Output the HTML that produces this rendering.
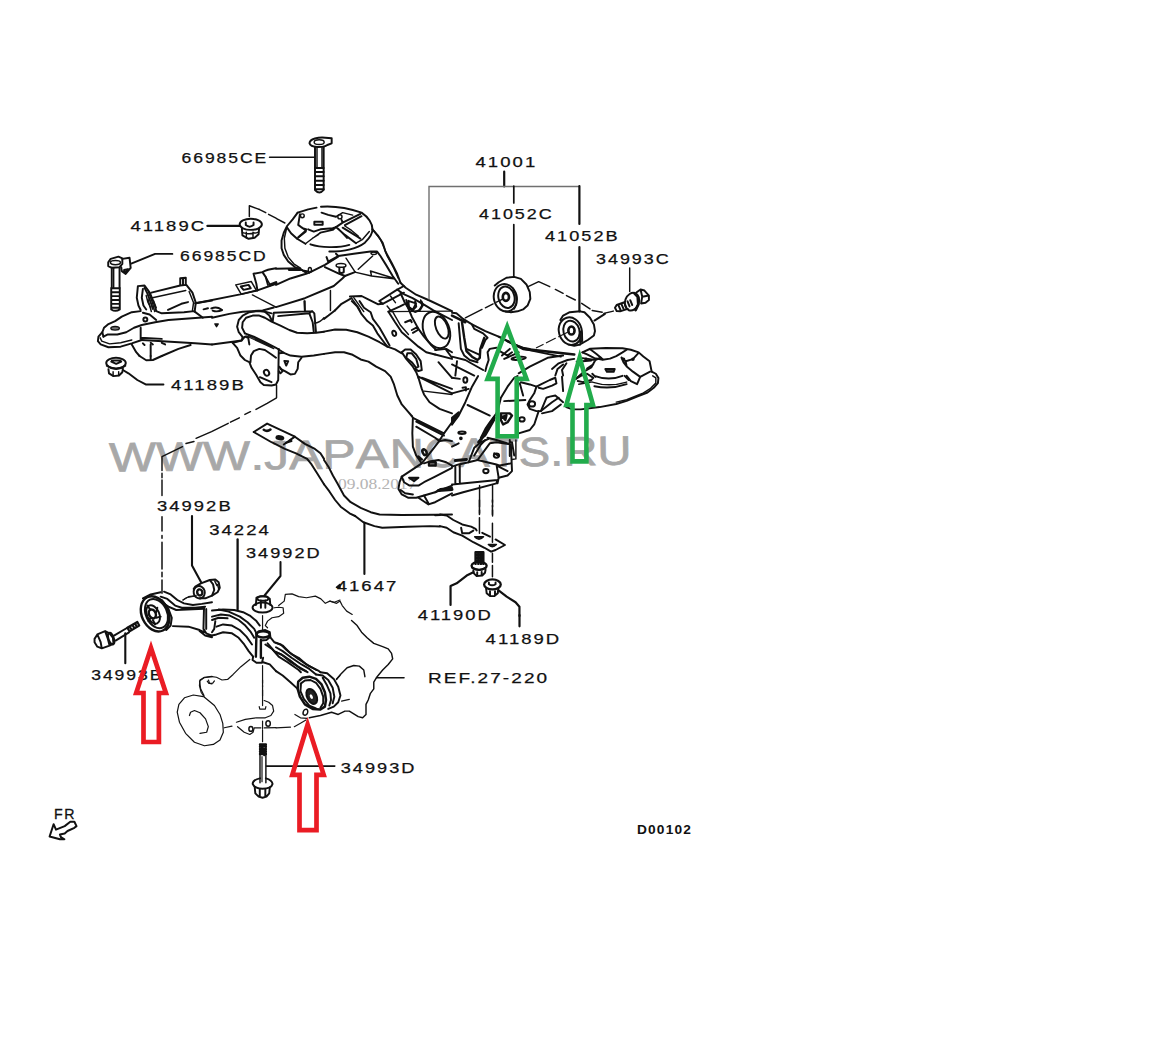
<!DOCTYPE html>
<html><head><meta charset="utf-8">
<style>
html,body{margin:0;padding:0;background:#fff;}
svg{display:block;}
text{font-family:"Liberation Sans",sans-serif;}
.l{font-size:15.4px;fill:#111;letter-spacing:1.7px;stroke:#111;stroke-width:0.25px;}
g.z path,g.z line,g.z ellipse,g.z polyline,g.z circle{vector-effect:non-scaling-stroke;}
.k{fill:none;stroke:#111;stroke-width:1.45;stroke-linecap:round;stroke-linejoin:round;}
.t{fill:none;stroke:#111;stroke-width:1.95;stroke-linecap:round;stroke-linejoin:round;}
.f{fill:none;stroke:#151515;stroke-width:1.2;stroke-linecap:round;stroke-linejoin:round;}
.d{fill:none;stroke:#111;stroke-width:1.2;stroke-dasharray:9 3;}
.g{fill:none;stroke:#22ac4c;stroke-width:4.6;stroke-linejoin:miter;stroke-miterlimit:10;}
.r{fill:none;stroke:#ea1c24;stroke-width:4.7;stroke-linejoin:miter;stroke-miterlimit:10;}
</style></head><body>
<svg width="1152" height="1044" viewBox="0 0 1152 1044">
<rect width="1152" height="1044" fill="#fff"/>
<!-- WATERMARK -->
<g id="wm">
<g transform="rotate(-0.75 109 471.5)" font-size="41" fill="#a8a8a8" style="font-kerning:none;stroke:#a8a8a8;stroke-width:0.7px">
<text x="109.2" y="471.5" textLength="279.8" lengthAdjust="spacingAndGlyphs">WWW.JAPA</text>
<text x="390" y="471.5" textLength="241.8" lengthAdjust="spacingAndGlyphs">NCATS.RU</text>
</g>
<text x="338" y="489.4" font-size="14" fill="#b4b4b4" style="font-family:'Liberation Serif',serif" textLength="78.5" lengthAdjust="spacingAndGlyphs">09.08.2017</text>
</g>
<!-- DRAWING -->
<g id="draw">
<!-- R(60,120) -->
<g class="z k" transform="translate(60,120) scale(0.1666667)">
<path class="t" d="M885 635 L1080 635"/>
</g>
<!-- R(252,120) -->
<g class="z k" transform="translate(252,120) scale(0.1666667)">
<path d="M105 223 L375 223"/>
<path class="t" d="M345 140 C345 112 400 102 440 106 L478 110 L478 140 L452 150 C430 166 352 170 345 140 Z"/>
<ellipse cx="403" cy="133" rx="30" ry="14"/>
<path class="t" d="M378 160 L378 420 Q405 450 430 420 L430 160"/>
<path d="M390 165 L390 285 M420 165 L420 285"/>
<path class="t" d="M378 288 L430 288 M380 312 L430 312 M380 338 L430 338 M380 364 L430 364 M380 390 L430 390 M380 415 L430 415"/>
</g>
<!-- R9(276,196) mount top-left -->
<g class="z k" transform="translate(276,196) scale(0.1111111)">
<path d="M5 203 L80 243"/>
<path class="t" d="M195 150 L290 120 L365 105 M405 97 C500 90 640 105 770 150 C830 190 870 250 868 300"/>
<path class="t" d="M868 300 L920 360 L960 420 L985 500 L1040 600 L1090 700 L1120 780"/>
<path d="M880 312 L940 392 L975 470 L1000 540 L1060 650 L1100 740"/>
<path class="t" d="M195 150 L150 210 L100 270 L70 330 L50 400 L50 470 L70 530 L110 590 L170 640 L240 670 L290 680"/>
<path d="M95 290 L75 380 L80 470 L110 550 L160 610 L220 650"/>
<path class="t" d="M100 285 L135 335 L190 385 L265 430"/>
<path class="t" d="M310 435 C400 465 560 470 660 440"/>
<path class="t" d="M480 500 C600 500 720 480 800 420 C840 380 870 330 868 300"/>
<path d="M720 425 L780 390 L840 320"/>
<circle cx="237" cy="178" r="17"/>
<path class="t" d="M215 165 L200 260 L240 290 L275 300 M230 282 L270 310 L200 372"/>
<path d="M190 385 L270 322 M265 430 L330 380 L400 330 M330 380 L385 345"/>
<path class="t" d="M345 232 L420 232 L420 258 L345 258 Z"/>
<path class="t" d="M410 150 L470 170 L540 187"/>
<circle cx="575" cy="187" r="19"/>
<path d="M540 185 L600 150 L690 172"/>
<path class="t" d="M290 300 L340 320 L400 300 L510 290 L540 280 M400 330 L510 305 L540 280"/>
<path class="t" d="M540 280 L600 240 L590 215 M600 240 L760 160 M620 262 L770 182"/>
<path class="t" d="M540 280 L620 350 L720 425 M600 285 L740 370 L760 385"/>
<path d="M560 292 L640 380 M620 270 L680 310 L740 360"/>
<path class="t" d="M455 550 L470 590 L560 540 L540 520"/>
<path class="t" d="M560 540 L700 520 L850 500 L910 500 L940 540 L990 620 L1050 720 L1100 790"/>
<ellipse cx="880" cy="515" rx="25" ry="11"/>
<path d="M870 540 L740 660 M630 560 L710 680"/>
<path class="t" d="M440 640 L570 700 L620 720 L710 685"/>
<path d="M710 685 L860 720 L1060 745 M850 675 L1060 740 M850 675 L860 720"/>
<ellipse cx="585" cy="625" rx="44" ry="17"/>
<path class="t" d="M570 645 L570 685 Q590 700 610 685 L610 645"/>
<path class="t" d="M0 655 L210 650 L270 690 M0 800 L130 742 L270 700 L300 690"/>
<path class="t" d="M120 662 L215 662" style="stroke-width:3"/>
<ellipse cx="305" cy="665" rx="14" ry="22"/>
<path class="t" d="M300 690 L440 620 L560 545"/>
<path class="t" d="M0 1000 L260 920 L520 810 L600 740 L620 720"/>
<path d="M490 850 L490 1030 M260 945 L260 1040"/>
<path class="t" d="M530 1030 L590 970 L680 920"/>
<path class="t" d="M665 905 L770 900 L830 930 L920 975 L960 970"/>
<path d="M680 920 L740 1000 L760 1040 M700 915 L790 1040"/>
<path class="t" d="M930 945 L1080 850 L1150 810 M930 945 L960 970 L1152 870"/>
<path d="M1000 990 L1040 1040 M1030 900 L1075 960"/>
</g>
<!-- R9(148,196) -->
<g class="z k" transform="translate(148,196) scale(0.1111111)">
<path class="t" d="M535 270 L825 270"/>
<ellipse class="t" cx="925" cy="255" rx="100" ry="50"/>
<path class="t" d="M880 238 L880 262 Q915 290 950 262 L950 238"/>
<path class="t" d="M845 295 L850 355 L905 385 L960 375 L995 345 L1000 290"/>
<path d="M885 325 L885 378 M945 325 L945 378 M850 330 Q920 350 995 325"/>
<path d="M912 185 L912 88 L1000 120"/>
<path d="M1000 120 L1060 150 M1085 165 L1152 200"/>
<path class="t" d="M290 800 L290 740 L340 735 L340 800 M315 745 L315 800"/>
<path class="t" d="M30 870 L290 805 L345 800 L400 870 L430 960 L420 1040"/>
<path d="M40 915 L340 850 M0 850 L40 960 L60 1040 M0 930 L30 1040"/>
<path class="t" d="M180 1025 L300 970 L360 955"/>
<path d="M370 860 L410 960 L400 1030"/>
<path class="t" d="M430 965 L830 885 L985 850 L1152 790"/>
<path d="M790 800 L930 770 L975 850 L840 885 Z"/>
<path class="t" d="M835 815 L905 800 L925 830 L860 845 Z"/>
<path class="t" d="M950 700 L1030 685 L1060 730 L1080 800 M950 700 L975 790 L985 850 M1030 685 C1070 660 1110 655 1152 650"/>
<path d="M1060 730 L1100 800"/>
<path class="t" d="M1100 800 L1152 780" style="stroke-width:3"/>
<path d="M940 890 L1152 1000"/>
<path class="t" d="M500 1020 L540 1010 M570 1012 Q620 990 660 1022"/>
</g>
<!-- R9(84,240) -->
<g class="z k" transform="translate(84,240) scale(0.1111111)">
<path class="t" d="M795 125 L640 125 L425 212"/>
<path class="t" d="M218 200 L240 170 L310 150 L345 165 L345 215 L320 245 L250 250 L218 235 Z"/>
<ellipse cx="283" cy="203" rx="45" ry="19"/>
<path class="t" d="M345 170 L410 160 L420 250 L375 305 L340 280 L335 245 M360 270 L395 262 L375 300 Z" />
<path class="t" d="M250 250 L250 430 M320 250 L320 430"/>
<path d="M267 255 L267 430"/>
<path class="t" d="M245 432 L245 625 Q283 650 322 625 L322 432 M245 435 L322 435 M245 470 L322 470 M245 505 L322 505 M245 540 L322 540 M245 575 L322 575 M245 610 L322 610"/>
<path class="t" d="M485 415 L545 410 L590 470 L615 530 L640 600 L650 640 M485 415 L475 520 L490 590 L510 630"/>
<path class="t" d="M530 440 L520 520 L535 590 L560 625 M545 430 L570 480 L600 560 L620 620"/>
<path d="M560 500 L575 560 L600 610 M625 545 L650 610"/>
<path class="t" d="M510 640 L430 650 L340 690 L280 730 L215 760 L180 790 L165 830 L175 870"/>
<path class="t" d="M165 830 L130 870 L125 910 L150 940 L220 965 L330 960 L430 930 L520 900"/>
<path class="t" d="M175 870 L215 850 L300 850 L380 830 L450 790 L520 765 L640 740 L760 720 L1152 690"/>
<path class="t" d="M650 640 L700 660 L900 650 L990 640 L1070 700"/>
<path class="t" d="M1000 570 L1152 545"/>
<ellipse cx="280" cy="795" rx="38" ry="16" style="fill:#777"/>
<path class="t" d="M530 655 L590 670 L650 720"/>
<circle class="t" cx="552" cy="715" r="18"/>
<path class="t" d="M510 790 L510 890 M510 880 L700 890"/>
<path class="t" d="M520 900 L1000 930 L1152 940"/>
<path class="t" d="M430 940 L470 1010 L500 1044 M600 940 L600 1044 M700 1044 L850 980 L960 945"/>
<path d="M145 880 L160 910 L230 935 L330 925 L430 900"/>
<path class="t" d="M530 930 L545 945 M600 925 L620 940 M700 925 L730 940"/>
</g>
<!-- R9(84,340) -->
<g class="z k" transform="translate(84,340) scale(0.1111111)">
<path class="t" d="M500 144 L560 182 L620 180 L700 144 M600 144 L600 180"/>
<ellipse class="t" cx="288" cy="208" rx="88" ry="48"/>
<path class="t" d="M245 195 L290 215 L335 195 M250 185 L330 185"/>
<path class="t" d="M205 232 Q290 292 372 232"/>
<path class="t" d="M220 262 L225 300 L265 325 L315 320 L345 290 L350 258"/>
<path d="M262 285 L262 322 M312 285 L312 320"/>
<path class="t" d="M350 270 L400 300 L480 360 L555 400 L715 400"/>
</g>
<!-- R9(196,300) -->
<g class="z k" transform="translate(196,300) scale(0.1111111)">
<path class="t" d="M144 160 L300 125 L420 105 L600 95 L700 68"/>
<path class="t" d="M144 400 L330 375 L410 365 L420 335"/>
<path d="M170 215 L200 215 L185 240 Z" style="fill:#111"/>
<path class="t" d="M150 95 Q190 112 235 90"/>
<path class="t" d="M420 335 L385 290 L370 240 L385 180 L420 140 L480 110 L560 100 L620 105 L660 140 L680 180"/>
<path class="t" d="M440 300 L415 250 L420 200 L450 160 L510 140 L570 140 L620 160 L680 195 L760 230 L840 270 L910 295 L1000 300 L1080 295 L1152 285"/>
<path class="t" d="M440 300 L520 330 L620 380 L720 430 L790 475 L850 500 L950 510 L1060 500 L1152 485"/>
<path class="f" d="M450 322 L700 438 M470 318 L690 420"/>
<path class="t" d="M700 115 L1045 100 L1065 120 L1080 290 M700 115 L690 195 M740 145 L1020 120 L1045 100 M1020 120 L1050 200 L1060 290 M620 105 L680 120 M975 10 L980 100"/>
<path d="M1070 210 Q1120 200 1152 160"/>
<path class="t" d="M330 385 L410 365 L440 330 L470 340 L480 400"/>
<path class="t" d="M330 385 L370 430 L400 500 L440 540 L480 560 L500 610 L540 670 L580 740 L610 765 L680 770 L720 760 L740 720 L745 440"/>
<path class="t" d="M490 560 L495 500 L520 460 L570 440 L620 450 L680 490 L720 520"/>
<ellipse class="t" cx="635" cy="655" rx="22" ry="28" transform="rotate(-30 635 655)"/>
<path class="t" d="M575 695 L680 740"/>
<path class="t" d="M750 480 L790 475 M760 620 L800 640 L850 670 L890 665 L915 620 L920 560 L950 520"/>
<path class="t" d="M795 548 L830 550 L812 590 Z M750 600 L780 640 L760 660 L745 640"/>
<path d="M725 770 L725 880 L640 930 L540 985 M490 1005 L440 1030"/>
</g>
<!-- R9(324,300) -->
<g class="z k" transform="translate(324,300) scale(0.1111111)">
<path class="t" d="M98 94 L40 140 L0 170"/>
<path class="t" d="M0 285 L100 265 L200 268 L300 290 L400 330 L500 380 L570 420 L640 445 L700 480"/>
<path class="t" d="M0 485 L100 470 L180 470 L250 490 L330 535 L400 555 L470 600 L550 640 L600 690 L630 760 L660 860 L700 940 L760 1010 L790 1044"/>
<path class="t" d="M250 10 L300 60 L340 130 L390 190 L440 230 L480 300 L540 380 L570 420"/>
<path class="t" d="M320 10 L360 70 L420 110 L440 170 L500 250 L540 320 L590 410"/>
<path class="t" d="M580 105 L680 60 L720 40"/>
<path class="f" d="M580 105 L1152 100"/>
<path class="t" d="M580 105 L640 200 L700 290 L770 350 L850 420 L920 470 L1000 490"/>
<path d="M620 110 L690 230 L760 310"/>
<path class="t" d="M740 30 L790 150 L850 260 L900 330 L960 400 L1010 450"/>
<path class="t" d="M730 200 L780 180 L790 200 M790 270 L840 245 L845 270 L800 295"/>
<ellipse class="t" cx="632" cy="300" rx="17" ry="24" transform="rotate(-15 632 300)"/>
<ellipse class="t" cx="1012" cy="270" rx="115" ry="170" transform="rotate(-22 1012 270)"/>
<ellipse class="t" cx="1060" cy="248" rx="52" ry="105" transform="rotate(-22 1060 248)"/>
<path class="t" d="M700 470 L730 445 L780 445 L830 490 L870 550 L880 630 L850 640 L820 620"/>
<path class="t" d="M740 520 L750 480 L790 480 L830 530 L850 600 L830 610 L790 560 Z"/>
<path class="t" d="M700 470 L740 530 L800 600 L830 650 L850 700"/>
<path class="t" d="M850 700 L880 800 L900 850 L950 920 L1040 980 L1152 1020"/>
<path class="t" d="M850 690 L1152 840 M880 700 L1152 800"/>
<path d="M900 820 L1152 850"/>
<path class="t" d="M1000 490 L1152 530 M1030 560 L1152 700"/>
<path class="t" d="M1100 450 L1152 520 M1000 450 L1100 440 L1152 470"/>
<path class="t" d="M940 0 L1152 100"/>
<path class="t" d="M740 0 L760 60 L800 90 L830 60 L820 10"/>
<path d="M870 0 L880 50 L850 100 L800 100"/>
</g>
<!-- R9(452,260) -->
<g class="z k" transform="translate(452,260) scale(0.1111111)">
<path class="t" d="M385 230 L420 200 L490 160 L560 152 L620 170 L670 220 L700 290 L705 350 L680 410 L640 445 L590 462 L530 470 L480 463"/>
<ellipse class="t" cx="480" cy="340" rx="103" ry="125" transform="rotate(-15 480 340)"/>
<ellipse class="t" cx="490" cy="335" rx="72" ry="98" transform="rotate(-15 490 335)"/>
<path d="M545 250 L575 320 L580 400 L560 440"/>
<ellipse cx="485" cy="332" rx="28" ry="36" style="stroke-width:2.6"/>
<path d="M460 350 L400 380 M370 395 L300 430 M270 445 L120 520"/>
<path d="M685 240 L780 195 L880 240 M930 265 L1000 300 M1030 320 L1110 360"/>
<path class="t" d="M975 540 L1000 500 L1060 470 L1152 462 M1152 762 L1100 772 L1050 762"/>
<ellipse class="t" cx="1065" cy="640" rx="103" ry="125" transform="rotate(-15 1065 640)"/>
<ellipse class="t" cx="1075" cy="640" rx="72" ry="95" transform="rotate(-15 1075 640)"/>
<ellipse cx="1075" cy="635" rx="28" ry="36" style="stroke-width:2.6"/>
<path class="f" d="M1040 650 L960 690 M930 705 L850 745 M820 760 L760 790"/>
<path class="t" d="M0 475 L40 480 L100 530 L180 580 L300 640 L420 690 L500 730"/>
<path class="t" d="M0 500 L60 530 L120 560" style="stroke-width:2.6"/>
<path class="t" d="M90 560 L110 700 L130 820 L180 870 L230 900 L250 880 L255 800 L290 700" style="stroke-width:2.4"/>
<path class="t" d="M60 570 L80 800 L110 860 L160 900 L230 920 M130 800 L240 850"/>
<path class="t" d="M180 580 L200 620 L280 660 L320 700 L300 720 L270 790"/>
<path class="t" d="M320 830 L340 800 L400 790 M320 830 L330 900 L310 960 L300 1000"/>
<path class="t" d="M0 870 L120 900 L280 990 M0 940 L200 1040 M45 910 L30 1040"/>
<path class="t" d="M500 730 L640 800 L1100 850" style="stroke-width:2.6"/>
<path class="t" d="M420 690 L560 760 L640 790 L700 800"/>
<path class="t" d="M430 820 L500 860 L540 830 M450 860 L520 800 M470 890 L560 850 L600 830"/>
<ellipse class="t" cx="600" cy="885" rx="65" ry="13" transform="rotate(-5 600 885)"/>
<path class="t" d="M640 800 L980 870 M700 960 L860 880 L1000 860 M600 1020 L700 960"/>
<path class="t" d="M900 980 L960 930 L1040 900 L1100 890 M930 1040 L950 980 L1000 940 M1000 1040 L990 990 L1030 930"/>
</g>
<!-- R9(580,260) -->
<g class="z k" transform="translate(580,260) scale(0.1111111)">
<ellipse class="t" cx="468" cy="375" rx="62" ry="82" transform="rotate(20 468 375)"/>
<path class="t" d="M510 290 L545 265 L580 275 L620 320 L620 360 L590 385 L550 392 M545 265 L560 330 L550 390 M560 330 L620 320"/>
<path class="t" d="M490 300 L520 330 L525 400 L500 450" style="stroke-width:2.8"/>
<path class="t" d="M400 380 L330 405 L315 430 L330 460 L360 462 L430 440"/>
<path class="t" d="M345 405 L365 450 M372 395 L392 440 M400 385 L418 430 M428 372 L446 418 M452 362 L470 405"/>
<path d="M300 460 L215 480 M15 390 L90 440 M110 455 L200 470"/>
<path class="t" d="M225 485 L130 545"/>
<path class="t" d="M0 462 L40 470 L90 520 L125 580 L135 640 L125 680 L70 720 L0 760"/>
<path d="M0 640 L20 660 L22 730 L0 745 Z" style="fill:#222"/>
</g>
<!-- R9.6(560,330) right mount -->
<g class="z k" transform="translate(560,330) scale(0.1041667)">
<path class="t" d="M215 215 L290 180 L440 172 L600 175 L680 190 L755 215 L800 255 L860 300 L880 400"/>
<path class="t" d="M215 215 L260 235 L330 270 L410 285 L480 275 L540 250 L600 215 L640 190"/>
<path class="t" d="M290 185 L350 230 L410 280"/>
<path class="t" d="M215 270 L340 288 L300 360 L230 400 L150 470 M340 288 L390 265 M160 305 L300 292 M260 370 L320 330"/>
<path class="t" d="M150 470 L200 440 L260 420 L320 460 L300 480 L220 500 L170 490"/>
<path class="t" d="M590 265 L630 300 L700 280 L750 225 M590 265 L610 310 L640 350 L700 400 L770 450 M630 300 L640 350"/>
<path class="t" d="M865 400 L770 450 L740 520 L680 490 L640 440 M620 440 L660 480"/>
<path class="t" d="M435 375 L525 375 L515 402 L450 402 Z" style="fill:#333"/>
<path class="t" d="M330 440 Q470 492 600 440 M310 420 L340 450"/>
<path d="M310 500 Q470 552 640 500 M180 520 L300 500"/>
<path class="t" d="M330 540 Q490 572 640 520"/>
<circle cx="250" cy="280" r="10" style="fill:#111"/><circle cx="610" cy="280" r="10" style="fill:#111"/><circle cx="700" cy="280" r="10" style="fill:#111"/>
<path class="t" d="M880 400 L920 420 L945 460 L940 510 L900 555 L840 600 L740 640 L640 680 L540 710 L380 740 L200 762 L120 762 L60 740"/>
<path d="M890 440 L920 460 L920 510 L870 560 L790 610 L640 670 L540 692"/>
</g>
<!-- R9(452,340) -->
<g class="z k" transform="translate(452,340) scale(0.1111111)">
<path class="t" d="M0 340 L70 350"/>
<ellipse class="t" cx="120" cy="360" rx="18" ry="24"/>
<path class="t" d="M95 430 L125 425 L125 455"/>
<path class="t" d="M235 324 L180 420 L120 560 L60 680 L0 760"/>
<path class="t" d="M0 480 L150 440 M140 585 L340 680"/>
<path class="t" d="M590 324 L560 340 L500 420 L440 520 L420 600 L400 660 L340 740 L300 800 L260 880"/>
<path class="t" d="M610 390 L640 500 M470 550 L660 540"/>
<path class="t" d="M620 380 L700 400 L760 420 L800 400 L880 360 L930 340 L940 390 L900 410 L820 440 L780 430"/>
<path class="t" d="M760 420 L740 480 L700 540 L680 580 L700 620 L760 640 L800 640 L850 520 L880 510 L930 500 L1000 560"/>
<ellipse class="t" cx="720" cy="575" rx="28" ry="24"/>
<path class="t" d="M800 640 L900 560 L960 520 M810 660 L900 640 L980 580"/>
<path class="t" d="M990 330 L1000 460"/>
<path class="t" d="M780 640 L740 760 L700 810 L600 840"/>
<path class="t" d="M440 660 L520 660 L540 680 L500 740 L460 760 L440 720 Z M455 690 L490 680 L480 720 Z" style="stroke-width:2.4"/>
<ellipse class="t" cx="630" cy="715" rx="24" ry="19"/>
<path class="t" d="M260 880 L300 860 L340 790 L380 720"/>
<path class="t" d="M380 700 L330 780 L280 870 L240 920" style="stroke-width:3"/>
<path class="t" d="M400 900 L500 930 L540 920 L560 1040 M520 900 L520 1044 M320 880 L400 900"/>
<path class="t" d="M0 960 L60 930"/>
<ellipse class="t" cx="90" cy="835" rx="33" ry="11"/>
<circle cx="80" cy="885" r="10" style="fill:#111"/>
<path class="t" d="M200 1040 L260 940 L300 900 M380 1020 L420 1044"/>
<path class="t" d="M0 700 L60 650 L0 760 Z" style="fill:#111"/>
</g>
<!-- R9(324,400) -->
<g class="z k" transform="translate(324,400) scale(0.1111111)">
<path class="t" d="M790 144 L800 160 L795 300 L800 420 L830 500 L880 570"/>
<path class="t" d="M800 160 L1080 300 L1152 200 M830 195 L1080 320"/>
<path class="t" d="M830 240 L1000 340 L1040 370"/>
<path class="t" d="M1080 300 L1030 380 L960 470 L880 570 L700 690"/>
<path class="t" d="M1152 370 L1090 360 L1040 370"/>
<ellipse cx="905" cy="470" rx="17" ry="27" transform="rotate(-25 905 470)" style="stroke-width:2.6"/>
<path class="t" d="M850 510 L880 535" style="stroke-width:2.6"/>
<path class="t" d="M945 560 L1005 560 L1005 590 L945 590 Z" style="stroke-width:2.4"/>
<path class="t" d="M1152 590 L1100 560 L1030 540 L960 550 L900 570"/>
<path class="t" d="M700 690 L680 740 L670 800 L700 850 L760 880 L830 880 L900 860 L1000 830 L1152 770"/>
<path class="t" d="M700 690 L720 740 L770 770 L850 770 L900 740 L1000 690 L1152 610"/>
<path class="t" d="M690 810 L730 840 L800 850"/>
<path class="t" d="M765 700 L850 700 L810 730 Z" style="fill:#333"/>
<path class="t" d="M850 880 L940 940 L1000 920 L1152 840 M900 860 L940 930 M1000 830 L1050 800 L1152 790"/>
<path class="t" d="M1030 815 L1152 805" style="stroke-width:3"/>
<path class="t" d="M0 540 L40 600 L80 680 L120 750 L180 860 L240 920 L330 970 L420 1010 L500 1030 L700 1035 L1000 1032 L1152 1030"/>
<path class="t" d="M0 758 L50 825 L100 900 L150 960 L230 1020 L280 1044"/>
</g>
<!-- R9(452,400) -->
<g class="z k" transform="translate(452,400) scale(0.1111111)">
<path class="t" d="M230 540 L340 390 L400 380 L530 400 L540 640 L500 680 L420 700"/>
<path class="t" d="M230 540 L400 580 L420 700 L410 750 M400 580 L430 590 L530 570 M420 600 L500 640"/>
<ellipse class="t" cx="400" cy="500" rx="24" ry="19"/>
<ellipse class="t" cx="305" cy="640" rx="24" ry="19"/>
<path d="M575 360 L575 530 L540 535"/>
<path class="t" d="M0 600 L60 580 L150 560 L230 540"/>
<path class="t" d="M30 545 L130 535" style="stroke-width:3"/>
<path class="t" d="M0 760 L410 720 M0 860 L100 830 L400 750 L410 720 M30 600 L30 750 M70 590 L70 740"/>
<path class="t" d="M150 560 L200 430 L260 380 L330 350"/>
<path d="M248 770 L248 960 M248 990 L248 1020 M365 770 L365 960 M365 990 L365 1044"/>
</g>
<!-- R9(196,400) -->
<g class="z k" transform="translate(196,400) scale(0.1111111)">
<path d="M390 160 L310 200 M290 210 L140 285 L0 345"/>
<path class="t" d="M520 288 L640 212 L890 330 L980 395 L1070 440 L1120 480 L1152 530"/>
<path class="t" d="M520 288 L680 380 L800 440 L900 480 L1000 530 L1040 580 L1090 660 L1152 758"/>
<path class="t" d="M890 330 L790 400"/>
<path class="t" d="M610 268 Q640 290 670 266" style="stroke-width:2.6"/>
<ellipse cx="755" cy="340" rx="28" ry="11" transform="rotate(10 755 340)" style="stroke-width:2.8"/>
<path class="t" d="M810 385 L860 370 L850 358"/>
</g>
<!-- R9(132,500) -->
<g class="z k" transform="translate(132,500) scale(0.1111111)">
<path class="t" d="M555 800 L570 780 L620 750 L700 720 L750 715 L780 740 L790 790 L770 830 L720 860 L660 885 L610 885"/>
<ellipse class="t" cx="605" cy="830" rx="50" ry="56" transform="rotate(-15 605 830)"/>
<ellipse cx="610" cy="832" rx="23" ry="28" transform="rotate(-15 610 832)" style="stroke-width:2.4"/>
<path class="t" d="M700 720 L730 760 L740 810 L720 860"/>
<path d="M745 730 L765 770 M770 760 L780 800"/>
<path class="f" d="M560 865 L490 880 L460 900"/>
</g>
<!-- R9(84,580) -->
<g class="z k" transform="translate(84,580) scale(0.1111111)">
<path class="t" d="M95 530 L120 490 L190 460 L230 480 L260 520 L265 570 L230 590 L160 615 L120 600 L95 560 Z M190 460 L215 530 L230 590 M120 490 L150 560 L160 615"/>
<ellipse class="t" cx="245" cy="528" rx="24" ry="55" transform="rotate(-20 245 528)"/>
<path class="t" d="M270 500 L390 430 M285 545 L405 472"/>
<path class="t" d="M390 430 L480 378 L497 410 L410 462 Z M410 420 L430 450 M435 405 L455 436 M458 392 L478 422" style="stroke-width:2.2"/>
<ellipse class="t" cx="640" cy="305" rx="120" ry="165" transform="rotate(-25 640 305)" style="stroke-width:2.4"/>
<ellipse class="t" cx="652" cy="302" rx="95" ry="138" transform="rotate(-25 652 302)"/>
<ellipse class="t" cx="622" cy="310" rx="55" ry="88" transform="rotate(-25 622 310)"/>
<ellipse class="t" cx="615" cy="305" rx="30" ry="42" transform="rotate(-25 615 305)" style="stroke-width:2.4"/>
<path class="t" d="M570 230 L600 270 M660 250 L650 290 M690 330 L650 340 M640 400 L620 360 M580 370 L600 340"/>
<path class="t" d="M700 180 L760 260 L790 340 L780 410 L740 450"/>
<path class="t" d="M530 165 L600 130 L690 110 M720 105 L780 130 L840 180 L900 210 L980 225 L1060 215 L1152 200"/>
<path class="t" d="M690 150 L750 170 L820 230 L880 250 L1000 250 L1090 240 M700 200 L760 240 L830 270 L1080 260"/>
<path class="t" d="M800 415 L940 420 L1040 450 L1080 470 M1080 250 L1075 440 L1100 480 L1152 500 M1100 260 L1100 440 M1040 460 L1090 500 L1152 515"/>
<path class="f" d="M890 180 L940 150 L1010 140"/>
<path class="f" d="M1152 870 L1080 880 L1040 910 L1050 980 L1080 1040 M1120 900 L1130 930 L1152 935"/>
</g>
<!-- R9(212,580) -->
<g class="z k" transform="translate(212,580) scale(0.1111111)">
<ellipse class="t" cx="455" cy="248" rx="90" ry="45"/>
<path class="t" d="M400 160 L440 145 L490 148 L520 170 L525 225 M400 160 L395 225 M440 185 L440 250 M480 185 L480 250"/>
<ellipse class="t" cx="458" cy="167" rx="50" ry="20"/>
<path class="f" d="M455 320 L455 450 M455 770 L455 960 M455 990 L455 1044"/>
<path class="t" d="M0 275 L100 265 L200 270 L280 290 L340 320 L400 370 L430 410"/>
<path class="t" d="M60 265 L150 285 L250 330 L320 380 L380 440 L400 480"/>
<path class="t" d="M0 330 L80 310 L160 320 L240 360 L300 410 L350 470 L380 520"/>
<path class="t" d="M0 360 L60 340 L140 345 M30 370 L20 440 L0 470"/>
<path class="t" d="M40 420 L100 400 L180 410 L250 450 L310 510 L360 580"/>
<path class="t" d="M0 500 L40 490 L100 470 L180 480 L240 520 L290 580 L330 640 L370 690"/>
<path class="t" d="M400 480 L395 690 M440 540 L440 700" style="stroke-width:2.4"/>
<ellipse class="t" cx="460" cy="490" rx="58" ry="28" style="stroke-width:2.4"/>
<path class="t" d="M400 480 L420 460 L480 450 L520 470 L525 510 L490 540 L440 545"/>
<path class="t" d="M370 690 L365 720 L400 745 L450 745 L460 700"/>
<path class="t" d="M520 510 L560 560 L620 580 L660 620 L720 670 L780 700 L850 760 L940 810"/>
<path class="t" d="M500 570 L560 640 L640 680 L700 720 L800 800 L860 830"/>
<path class="t" d="M480 580 L540 620 L600 690 L680 740 L780 810 L800 830"/>
<path class="t" d="M460 740 L520 760 L576 820"/>
<path class="f" d="M560 250 L600 245 L640 250 L645 300 L600 330 L540 340 L500 370 L480 410 L500 430"/>
<path class="f" d="M600 230 L650 190 L660 130 L720 125 L780 150 L850 160 L930 145 L980 170 L1020 210 L1060 190 L1100 200 L1152 180"/>
<path class="f" d="M340 715 L260 780 L190 850 L140 895 L90 900 L40 875 L0 870 M1152 860 L1120 890"/>
<path d="M1152 40 L1120 65 L1152 70 Z" style="fill:#111"/>
</g>
<!-- R9(212,680) -->
<g class="z k" transform="translate(212,680) scale(0.1111111)">
<path d="M432 580 L432 925 M485 580 L485 925" />
<path class="f" d="M450 690 L450 915"/>
<path class="t" d="M432 580 L485 580 M432 600 L485 600 M432 622 L485 622 M432 644 L485 644 M432 666 L485 666 M445 585 L470 675" style="stroke-width:2.4"/>
<path class="t" d="M432 885 Q365 900 366 935 Q380 975 455 978 Q535 975 545 935 Q540 900 485 885"/>
<path class="t" d="M385 968 L390 1020 L420 1050 L455 1060 L490 1050 L515 1020 L520 968 M430 985 L430 1052 M480 985 L480 1052"/>
<path class="t" d="M490 775 L1105 775" style="stroke-width:1.6"/>
<path class="f" d="M455 0 L455 30 M455 50 L455 230 M455 370 L455 440 M455 450 L455 555"/>
<path class="f" d="M425 240 L430 262 L480 262 L485 240"/>
<path class="f" d="M110 430 L180 415 M220 380 L300 355 L400 340 L480 340 L530 320 L555 280 L545 230 L510 200 L470 185"/>
<path class="f" d="M230 420 L290 470 L340 490 L370 470 L380 430 L440 430"/>
<ellipse class="k" cx="350" cy="440" rx="18" ry="22"/><ellipse class="k" cx="505" cy="392" rx="20" ry="25"/>
<path class="f" d="M470 430 L576 429"/>
</g>
<!-- R9(276,620) bushing 2 + housing -->
<g class="z k" transform="translate(276,620) scale(0.1111111)">
<path class="t" d="M200 555 L195 620 L215 690 L260 760 L330 800 L400 805 L440 780 M200 555 L240 520 L300 510 L360 530 L410 580 L440 650 L450 720 L440 780" style="stroke-width:2.5"/>
<path class="t" d="M225 570 L260 545 L310 540 L360 565 L400 620 L425 690 L425 750 L400 790 M225 570 L220 640 L250 710 L300 770 L360 795"/>
<ellipse cx="322" cy="688" rx="42" ry="72" transform="rotate(-25 322 688)" style="fill:#222;stroke-width:2"/>
<ellipse cx="318" cy="690" rx="12" ry="22" transform="rotate(-25 318 690)" style="fill:#fff;stroke:none"/>
<path class="t" d="M400 470 L460 480 L520 530 L560 600 L580 680 L560 740 L520 780 L470 800"/>
<path class="t" d="M360 490 L420 500 L470 540 L510 610 L525 690 L510 750 M420 520 L460 590 L490 660 L495 720 L480 770"/>
<path class="t" d="M0 205 L60 230 L120 290 L200 350 L290 410 L380 455 L400 470"/>
<path class="t" d="M0 245 L60 280 L140 340 L230 400 L300 440 L360 490 M0 290 L50 310 L120 370 L200 420 L270 460"/>
<path class="t" d="M0 460 L60 500 L130 560 L195 620"/>
<path class="k" d="M680 5 L730 50 L770 110 L820 160 L880 210 L960 240 L1010 260 L1040 300 L1050 350 L1010 400 L960 450 L910 510 L880 560 L880 620 L850 660 L830 720 L810 760 L810 850 L780 880 L740 870 L660 820 L620 820 L560 850 L500 830 L400 860 L300 880"/>
<path class="k" d="M545 535 L580 490 L640 430 L700 410 L750 415 L790 450 L800 510"/>
<path class="f" d="M590 730 L660 715"/>
<path class="t" d="M905 520 L1152 520" style="stroke-width:1.6"/>
<ellipse class="k" cx="265" cy="830" rx="20" ry="28" transform="rotate(20 265 830)"/>
<path class="f" d="M170 850 L220 880 L280 885 M0 970 L130 965 M165 960 L220 930 L270 900"/>
</g>
<!-- R9(330,500) -->
<g class="z k" transform="translate(330,500) scale(0.1111111)">
<path class="t" d="M226 144 L300 200 L400 235 L470 250 L700 240 L900 235 L990 238"/>
<path class="t" d="M946 137 L990 135"/>
<path class="f" d="M0 910 L60 930 L90 910 L110 950 L150 1000 L200 1030"/>
</g>
<!-- R9(440,500) -->
<g class="z k" transform="translate(440,500) scale(0.1111111)">
<path class="t" d="M0 130 L60 140 L120 180 L200 220 L280 240 L320 260 L330 275"/>
<path class="t" d="M190 250 L200 300 L260 300 L300 275"/>
<path class="t" d="M0 235 L60 250 L120 290 L200 320 L300 380 L400 430 L460 465 L500 450 L585 405 L500 355 M380 295 L450 330"/>
<path d="M312 330 Q350 375 392 330 Z" style="fill:#222"/>
<path d="M435 400 Q470 440 508 400 Z" style="fill:#222"/>
<path class="t" d="M320 470 L320 575 M390 470 L390 575 M320 470 L390 470 M320 495 L390 495 M320 520 L390 520 M320 545 L390 545 M345 470 L345 575 M368 470 L368 575" style="stroke-width:2.4"/>
<ellipse class="t" cx="352" cy="592" rx="68" ry="36" style="stroke-width:2.3"/>
<path class="t" d="M290 610 Q352 650 415 608"/>
<path class="t" d="M300 632 L305 660 L330 685 L380 680 L405 655 L410 628 M335 650 L335 682 M375 648 L375 680"/>
<path class="t" d="M300 650 L240 680 L150 750 L95 775 L95 945" style="stroke-width:2.2"/>
<ellipse class="t" cx="472" cy="760" rx="75" ry="45" style="stroke-width:2.3"/>
<path class="t" d="M440 742 L440 758 Q470 778 500 758 L500 742"/>
<path class="t" d="M415 795 L420 840 L450 865 L490 865 L520 840 L525 795 M450 822 L450 862 M495 822 L495 862"/>
<path class="t" d="M530 815 L600 870 L680 920 L715 960 L715 1044" style="stroke-width:2.2"/>
<path class="k" d="M355 0 L355 130 M355 160 L355 300 M472 0 L472 20 M472 50 L472 130 M472 210 L472 380 M472 480 L472 560 M472 590 L472 690" style="stroke-width:1.5"/>
</g>
<!-- R9(160,650) flange -->
<g class="z k" transform="translate(160,650) scale(0.1111111)">
<path class="k" d="M390 420 L300 405 L220 430 L170 490 L155 560 L175 650 L230 750 L310 830 L400 862 L480 850 L540 810 L570 740 L565 660 L540 580 L490 500 L430 450 L400 425" style="stroke-width:1.2"/>
<path class="k" d="M265 590 L275 560 L310 545 L360 565 L410 620 L435 690 L420 740 L360 750" style="stroke-width:1.2"/>
<path class="k" d="M400 425 L370 380 L355 320 L360 270 L400 245 L468 238" style="stroke-width:1.2"/>
<path class="k" d="M425 280 L440 300 L475 298 L490 278" style="stroke-width:1.2"/>
</g>
<!-- abs bridging -->
<g class="k">
<path class="t" d="M400.4 282.7 L405.7 287.8 L416.1 294.7 L428.4 300"/>
<path class="t" d="M397 289.5 L404.8 294.7 L412.6 298.2 L424.8 305.1 L433.4 310.3 L452 320"/>
<path class="t" d="M400.5 293 L405 303 L409 309 L415 312 L420 310 L423 305 L421.5 301.5"/>
<path class="t" d="M408.3 300.8 L416 303.4 L412.6 310.3 L409 307 Z"/>
</g>
</g>
<!-- LEADERS -->
<g id="lead">
<path class="t" d="M49.6 836.5 L53.6 824.2 L56 829.6 L64.7 826.1 L70.3 821.8 L74.4 821.8 L76.5 826.1 L74.4 827.8 L67.5 831 L64.7 833.4 L59.9 834.4 L60.9 837.2 L64.4 839.3 L59.9 839.3 Z" style="stroke-width:2"/>
<path class="t" d="M519.5 615 L519.5 626.3" style="stroke-width:2.2"/>
<path class="t" d="M364.4 522.8 L364.4 574" style="stroke-width:2.1"/>
<path class="t" d="M280.5 562 L280.5 576 L264.5 595.5" style="stroke-width:2"/>
<path class="t" d="M125.3 633.3 L125.3 663.3" style="stroke-width:2.1"/>
<path class="k" d="M162 516.7 L162 531 M162 535.6 L162 538.3 M162 542.2 L162 569 M162 572.2 L162 576.7 M162 580 L162 593.3" style="stroke-width:1.5"/>
<path class="t" d="M192 516 L192 565.6 L201.4 582.8" style="stroke-width:2.1"/>
<path class="t" d="M237.6 539.4 L237.6 609.4" style="stroke-width:2.3"/>
<path class="k" d="M194 441.5 L186 443.5 M182.5 446.7 L162 456.7 L162 470.5 M162 473.3 L162 477.8 M162 480 L162 495.5"/>
<path d="M504.2 171.7 L504.2 186.5" class="t" style="stroke-width:2.2"/>
<path d="M429 299.5 L429 186.5 L580 186.5" style="fill:none;stroke:#707070;stroke-width:1.4"/>
<path d="M513.8 186 L513.8 203 M513.8 224.5 L513.8 277" class="t" style="stroke-width:1.7"/>
<path d="M579.4 186 L579.4 224 M579.4 247 L579.4 311.5" class="t" style="stroke-width:2.2"/>
<path d="M629.7 268 L629.7 291.5" class="k"/>
</g>
<!-- LABELS -->
<g id="labels">
<text class="l" x="181.5" y="162.7" textLength="86.7" lengthAdjust="spacingAndGlyphs">66985CE</text>
<text class="l" x="130.5" y="231.3" textLength="75.7" lengthAdjust="spacingAndGlyphs">41189C</text>
<text class="l" x="180" y="260.6" textLength="87.7" lengthAdjust="spacingAndGlyphs">66985CD</text>
<text class="l" x="171" y="389.5" textLength="74.9" lengthAdjust="spacingAndGlyphs">41189B</text>
<text class="l" x="475.5" y="166.6" textLength="61.8" lengthAdjust="spacingAndGlyphs">41001</text>
<text class="l" x="479" y="219" textLength="74.7" lengthAdjust="spacingAndGlyphs">41052C</text>
<text class="l" x="545" y="241" textLength="74.7" lengthAdjust="spacingAndGlyphs">41052B</text>
<text class="l" x="596" y="264" textLength="74.7" lengthAdjust="spacingAndGlyphs">34993C</text>
<text class="l" x="157" y="511.3" textLength="75.7" lengthAdjust="spacingAndGlyphs">34992B</text>
<text class="l" x="209.2" y="534.6" textLength="61.7" lengthAdjust="spacingAndGlyphs">34224</text>
<text class="l" x="246" y="557.8" textLength="75.7" lengthAdjust="spacingAndGlyphs">34992D</text>
<text class="l" x="336.7" y="590.6" textLength="61.7" lengthAdjust="spacingAndGlyphs">41647</text>
<text class="l" x="417.7" y="620.3" textLength="75.2" lengthAdjust="spacingAndGlyphs">41190D</text>
<text class="l" x="485.6" y="643.5" textLength="75.7" lengthAdjust="spacingAndGlyphs">41189D</text>
<text class="l" x="91.2" y="680" textLength="72.2" lengthAdjust="spacingAndGlyphs">34993B</text>
<text class="l" x="428" y="683.1" textLength="121.2" lengthAdjust="spacingAndGlyphs">REF.27-220</text>
<text class="l" x="340.7" y="772.6" textLength="75.7" lengthAdjust="spacingAndGlyphs">34993D</text>
<text class="l" x="54" y="818.6" textLength="22" lengthAdjust="spacingAndGlyphs" style="font-size:15.5px;stroke:#111;stroke-width:0.3">FR</text>
<text x="637" y="833.6" font-size="12" font-weight="bold" fill="#111" textLength="55" lengthAdjust="spacingAndGlyphs" style="letter-spacing:1px">D00102</text>
</g>
<!-- ARROWS -->
<g id="arrows">
<path class="g" d="M507.2 327 L526.5 378.9 L516.7 378.9 L516.7 436.3 L497.6 436.3 L497.6 378.9 L487.5 378.9 Z"/>
<path class="g" d="M579.7 357.5 L593 405 L586.4 405 L586.4 461.4 L572.5 461.4 L572.5 405 L566.3 405 Z"/>
<path class="r" d="M151 648 L165.9 693 L158.9 693 L158.9 742 L143.5 742 L143.5 693 L136.2 693 Z"/>
<path class="r" d="M307.6 724.6 L323.7 774.8 L316.5 774.8 L316.5 830.2 L299.5 830.2 L299.5 774.8 L292.3 774.8 Z"/>
</g>
</svg>
</body></html>
